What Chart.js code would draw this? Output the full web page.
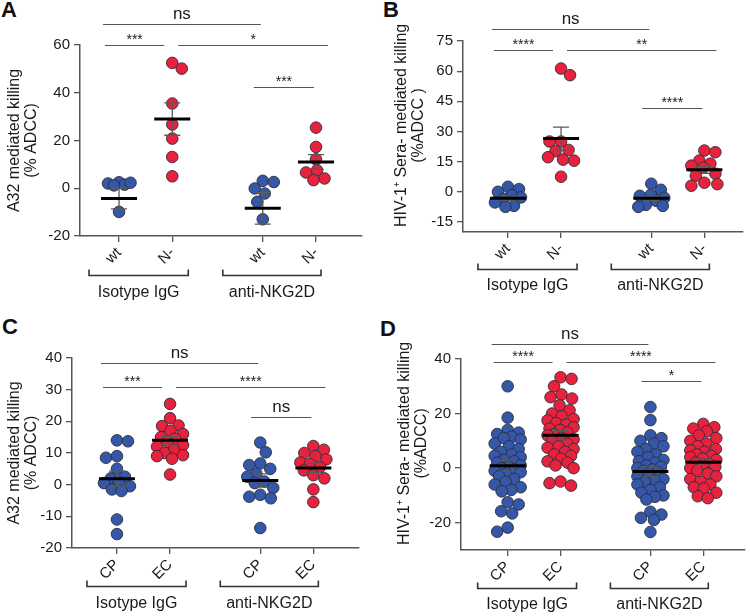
<!DOCTYPE html>
<html><head><meta charset="utf-8">
<script src="https://cdn.jsdelivr.net/npm/chart.js@4.4.1/dist/chart.umd.min.js"></script>
<style>
html,body{margin:0;padding:0;background:#fff}
body{width:750px;height:616px;position:relative;overflow:hidden}
canvas{position:absolute}
.lbl{position:absolute;font-family:"Liberation Sans Narrow","Liberation Sans",Arial,sans-serif;font-weight:bold;font-size:22px;color:#111;line-height:1}
</style></head><body>
<div class="lbl" style="left:1px;top:-1px">A</div>
<div class="lbl" style="left:383px;top:-1px">B</div>
<div class="lbl" style="left:2px;top:316px">C</div>
<div class="lbl" style="left:380px;top:318px">D</div>
<canvas id="cA" width="375" height="305" style="left:0;top:0"></canvas>
<canvas id="cB" width="375" height="305" style="left:375px;top:0"></canvas>
<canvas id="cC" width="375" height="311" style="left:0;top:305px"></canvas>
<canvas id="cD" width="375" height="311" style="left:375px;top:305px"></canvas>
<script>
// ---------- shared categories ----------
const catPos = [1, 2, 3.7, 4.7];
const groupLabels = ['Isotype IgG', 'anti-NKG2D'];
const tickLabelsAB = ['wt', 'N-', 'wt', 'N-'];
const tickLabelsCD = ['CP', 'EC', 'CP', 'EC'];

// ---------- Panel A ----------
const aIsoWt = [2.5, 2.0, 1.5, 1.2, 2.3, -9.9];
const aIsoN = [52.5, 50.1, 35.5, 26.7, 20.8, 13.1, 5.0];
const aAntiWt = [3.1, 2.6, -0.1, -2.2, -5.7, -13.0];
const aAntiN = [25.4, 17.3, 12.1, 7.5, 6.6, 4.1, 3.4];
const aMeans = [-4.3, 29.0, -8.4, 11.0];
const aSems = [4.3, 6.8, 6.6, 3.1];
const aSigLabels = ['ns', '***', '*', '***'];
const aSigLevels = [68.7, 60.2, 60.2, 42.4];
const aYTicks = [-20, 0, 20, 40, 60];

// ---------- Panel B ----------
const bIsoWt = [2.5, 1.3, 0, -1.7, -2.8, -3.5, -5.3, -7.0, -7.5];
const bIsoN = [61.3, 58.0, 25.0, 25.0, 20.8, 20.2, 17.2, 16.0, 15.5, 7.5];
const bAntiWt = [4.0, 1.0, -1.5, -2.0, -3.0, -4.5, -6.5, -7.5, -7.0];
const bAntiN = [20.5, 19.7, 15.5, 14.0, 13.0, 12.0, 9.0, 8.0, 4.5, 3.8, 3.0];
const bMeans = [-3.2, 26.5, -3.2, 11.0];
const bSems = [1.0, 5.7, 1.1, 1.8];
const bSigLabels = ['ns', '****', '**', '****'];
const bSigLevels = [81, 70.5, 70.5, 41.85];
const bYTicks = [-15, 0, 15, 30, 45, 60, 75];

// ---------- Panel C ----------
const cIsoCp = [14, 13.7, 9, 8.5, 5, 2.5, 2, 1, 0.5, -0.5, -1.5, -2, -11, -15.6];
const cIsoEc = [25.5, 21, 18.7, 18.5, 17, 16, 15, 14.5, 13.5, 12.5, 12, 11, 10, 9.3, 9, 8.2, 3.2];
const cAntiCp = [13.3, 10.2, 6.7, 6.2, 5, 3.5, 2.5, 1, 0.5, -1, -3.2, -3.8, -4.3, -13.7];
const cAntiEc = [12.2, 11, 10, 9, 8, 7, 6.5, 5.5, 4.5, 3, 2, -1.5, -5.5];
const cMeans = [1.9, 14.0, 1.3, 5.3];
const cSems = [2.4, 1.2, 2.1, 1.4];
const cSigLabels = ['ns', '***', '****', 'ns'];
const cSigLevels = [38.55, 31.0, 31.0, 21.26];
const cYTicks = [-20, -10, 0, 10, 20, 30, 40];

// ---------- Panel D ----------
const dIsoCp = [30, 18.5, 14, 13, 12.5, 11.5, 11, 10.5, 9, 8, 7, 6, 5, 4.5, 4, 3, 2.5, 2, 1, 0.5, 0, -0.5, -1, -1.5, -2, -3, -4, -5, -6, -7, -8, -8.5, -12.5, -13.3, -15.8, -16.6, -21.8, -23.3];
const dIsoEc = [33.3, 32.7, 30, 27, 26, 25.5, 23, 21.2, 20, 19, 18, 17.5, 16.5, 16, 15, 14.5, 14, 13, 12.5, 12, 11, 10.5, 10, 9, 8, 7.5, 7, 6, 5, 4.5, 3.5, 2.5, 2, 1, 0, -4.9, -5.5, -6.4];
const dAntiCp = [22.4, 17.6, 12, 11, 10, 9, 8, 7, 6, 5, 4, 3, 2.5, 2, 1, 0.5, 0, -0.5, -1, -1.5, -2, -3, -4, -4.5, -5, -6, -7, -8, -9, -10, -10.5, -11.5, -16, -17, -18.2, -19, -23.4];
const dAntiEc = [16.2, 15, 14.5, 13.5, 12, 11, 10, 9, 8, 7, 6.5, 6, 5, 4.5, 4, 3.5, 3, 2, 1.5, 1, 0.5, 0, -1, -2, -3, -4, -5, -6, -7, -7.5, -9, -10.3, -11];
const dMeans = [0.9, 12.1, -1.2, 2.2];
const dSems = [2.0, 1.6, 1.7, 1.2];
const dSigLabels = ['ns', '****', '****', '*'];
const dSigLevels = [45.45, 38.76, 38.76, 32.1];
const dYTicks = [-20, 0, 20, 40];

// ---------- style ----------
const FONT = '"Liberation Sans", Arial, Helvetica, sans-serif';
const BLUE = '#3557a7', RED = '#e8213c', EDGE = '#2e2e3c';
const AXIS = '#555';
const R = 5.8, MAXW = 13;
Chart.defaults.font.family = FONT;

// sig bar pairs (category indices) and pixel offsets from category centres
const sigPairs = [[0, 2, -16, -2], [0, 1, -14, -8], [1, 3, 6, 12], [2, 3, -9, -2]];
const brPairs = [[0, 1, -30, 16], [2, 3, -40, 5]];

const annoPlugin = {
  id: 'panelAnno',
  afterDatasetsDraw(chart, args, o) {
    const {ctx, scales: {x, y}} = chart;
    ctx.save();
    o.means.forEach((m, i) => {
      const cx = x.getPixelForValue(catPos[i]);
      const ym = y.getPixelForValue(m);
      const yt = y.getPixelForValue(m + o.sems[i]);
      const yb = y.getPixelForValue(m - o.sems[i]);
      ctx.strokeStyle = '#5a5a5a'; ctx.lineWidth = 1.3;
      ctx.beginPath();
      ctx.moveTo(cx, yt); ctx.lineTo(cx, yb);
      ctx.moveTo(cx - 8, yt); ctx.lineTo(cx + 8, yt);
      ctx.moveTo(cx - 8, yb); ctx.lineTo(cx + 8, yb);
      ctx.stroke();
      ctx.strokeStyle = '#000'; ctx.lineWidth = 3;
      ctx.beginPath(); ctx.moveTo(cx - 18, ym); ctx.lineTo(cx + 18, ym); ctx.stroke();
    });
    ctx.restore();
  },
  afterDraw(chart, args, o) {
    const {ctx, scales: {x, y}, chartArea} = chart;
    ctx.save();
    sigPairs.forEach((p, i) => {
      const x1 = x.getPixelForValue(catPos[p[0]]) + p[2];
      const x2 = x.getPixelForValue(catPos[p[1]]) + p[3];
      const yy = Math.round(y.getPixelForValue(o.sigLevels[i])) + 0.5;
      ctx.strokeStyle = '#555'; ctx.lineWidth = 1.2;
      ctx.beginPath(); ctx.moveTo(x1, yy); ctx.lineTo(x2, yy); ctx.stroke();
      const lab = o.sigLabels[i];
      ctx.fillStyle = '#1a1a1a'; ctx.textAlign = 'center'; ctx.textBaseline = 'alphabetic';
      if (lab === 'ns') { ctx.font = '17px ' + FONT; ctx.fillText(lab, (x1 + x2) / 2, yy - 6); }
      else { ctx.font = '14px ' + FONT; ctx.fillText(lab, (x1 + x2) / 2, yy - 1.5); }
    });
    const by = Math.round(chartArea.bottom + o.brY) + 0.5;
    brPairs.forEach((p, i) => {
      const x1 = x.getPixelForValue(catPos[p[0]]) + p[2];
      const x2 = x.getPixelForValue(catPos[p[1]]) + p[3];
      ctx.strokeStyle = '#333'; ctx.lineWidth = 1.6;
      ctx.beginPath();
      ctx.moveTo(x1, by - 6); ctx.lineTo(x1, by); ctx.lineTo(x2, by); ctx.lineTo(x2, by - 6);
      ctx.stroke();
      ctx.fillStyle = '#1a1a1a'; ctx.font = '16px ' + FONT;
      ctx.textAlign = 'center'; ctx.textBaseline = 'middle';
      ctx.fillText(groupLabels[i], (x1 + x2) / 2, chartArea.bottom + o.lblY);
    });
    ctx.restore();
  }
};

function swarm(ys) {
  const order = ys.map((v, i) => i).sort((a, b) => ys[a] - ys[b]);
  const placed = [], off = new Array(ys.length);
  const D = 2 * R * 0.95;
  let flip = 1;
  for (const i of order) {
    let best = 0, bestScore = -1, found = false;
    for (let k = 0; k <= MAXW && !found; k += 0.5) {
      const signs = k === 0 ? [1] : [flip, -flip];
      for (const s of signs) {
        const xx = s * k;
        let md = Infinity;
        for (const p of placed) md = Math.min(md, Math.hypot(p.x - xx, p.y - ys[i]));
        if (md >= D) { best = xx; found = true; break; }
        if (md > bestScore) { bestScore = md; best = xx; }
      }
    }
    if (best !== 0) flip = -Math.sign(best);
    placed.push({x: best, y: ys[i]});
    off[i] = best;
  }
  return off;
}

function makeChart(id, p) {
  const colors = [BLUE, RED, BLUE, RED];
  const config = {
    type: 'scatter',
    data: {
      datasets: p.groups.map((vals, gi) => ({
        data: vals.map(v => ({x: catPos[gi], y: v})),
        backgroundColor: colors[gi], borderColor: EDGE, borderWidth: 0.9,
        pointRadius: R, pointHoverRadius: R
      }))
    },
    options: {
      responsive: false, animation: false, devicePixelRatio: 1,
      layout: {autoPadding: false, padding: {left: 0, right: p.padR, top: p.padT, bottom: 0}},
      plugins: {
        legend: {display: false}, tooltip: {enabled: false},
        panelAnno: {means: p.means, sems: p.sems, sigLabels: p.sigLabels, sigLevels: p.sigLevels, brY: p.brY, lblY: p.lblY}
      },
      scales: {
        x: {
          type: 'linear', min: p.xMin, max: p.xMax,
          afterBuildTicks: s => { s.ticks = catPos.map(v => ({value: v})); },
          afterFit: s => { s.height = p.xH; },
          ticks: {callback: (v, i) => p.tickLabels[i], minRotation: 45, maxRotation: 45, autoSkip: false,
                  color: '#1a1a1a', font: {size: 15}, padding: 2},
          grid: {drawOnChartArea: false, drawTicks: true, tickLength: 6, color: AXIS, lineWidth: 1.3},
          border: {display: true, color: AXIS, width: 1.5}
        },
        y: {
          type: 'linear', min: p.yMin, max: p.yMax,
          afterBuildTicks: s => { s.ticks = p.yTicks.map(v => ({value: v})); },
          afterFit: s => { s.width = p.yW; },
          ticks: {color: '#1a1a1a', font: {size: 15}, padding: 4},
          grid: {drawOnChartArea: false, drawTicks: true, tickLength: 6, color: AXIS, lineWidth: 1.3},
          border: {display: true, color: AXIS, width: 1.5},
          title: {display: true, text: p.title, color: '#1a1a1a', font: {size: 16, lineHeight: 1.07},
                  padding: {top: p.titlePad, bottom: 0}}
        }
      }
    },
    plugins: [annoPlugin]
  };
  const chart = new Chart(document.getElementById(id), config);
  const xs = chart.scales.x, ysc = chart.scales.y;
  p.groups.forEach((vals, gi) => {
    const cx = xs.getPixelForValue(catPos[gi]);
    const offs = swarm(vals.map(v => ysc.getPixelForValue(v)));
    chart.data.datasets[gi].data = vals.map((v, k) => ({x: xs.getValueForPixel(cx + offs[k]), y: v}));
  });
  chart.update('none');
  return chart;
}

makeChart('cA', {
  groups: [aIsoWt, aIsoN, aAntiWt, aAntiN], means: aMeans, sems: aSems,
  sigLabels: aSigLabels, sigLevels: aSigLevels, yTicks: aYTicks, tickLabels: tickLabelsAB,
  yMin: -20, yMax: 60, xMin: 0.267, xMax: 5.564,
  padR: 13, padT: 45, yW: 80, xH: 69, brY: 39, lblY: 57,
  title: ['A32 mediated killing', '(% ADCC)'], titlePad: 6
});
makeChart('cB', {
  groups: [bIsoWt, bIsoN, bAntiWt, bAntiN], means: bMeans, sems: bSems,
  sigLabels: bSigLabels, sigLevels: bSigLevels, yTicks: bYTicks, tickLabels: tickLabelsAB,
  yMin: -20, yMax: 75, xMin: 0.153, xMax: 5.428,
  padR: 7, padT: 41, yW: 88, xH: 73, brY: 37, lblY: 54,
  title: ['     HIV-1\u207A Sera- mediated killing', '     (%ADCC )'], titlePad: 18
});
makeChart('cC', {
  groups: [cIsoCp, cIsoEc, cAntiCp, cAntiEc], means: cMeans, sems: cSems,
  sigLabels: cSigLabels, sigLevels: cSigLevels, yTicks: cYTicks, tickLabels: tickLabelsCD,
  yMin: -20, yMax: 40, xMin: 0.153, xMax: 5.56,
  padR: 16, padT: 53, yW: 72, xH: 68, brY: 37.5, lblY: 56,
  title: ['A32 mediated killing', '(% ADCC)'], titlePad: 6
});
makeChart('cD', {
  groups: [dIsoCp, dIsoEc, dAntiCp, dAntiEc], means: dMeans, sems: dSems,
  sigLabels: dSigLabels, sigLevels: dSigLevels, yTicks: dYTicks, tickLabels: tickLabelsCD,
  yMin: -30, yMax: 40, xMin: 0.117, xMax: 5.489,
  padR: 5, padT: 54, yW: 86, xH: 66, brY: 37.5, lblY: 55,
  title: ['     HIV-1\u207A Sera- mediated killing', '     (%ADCC)'], titlePad: 21
});
</script>
</body></html>
